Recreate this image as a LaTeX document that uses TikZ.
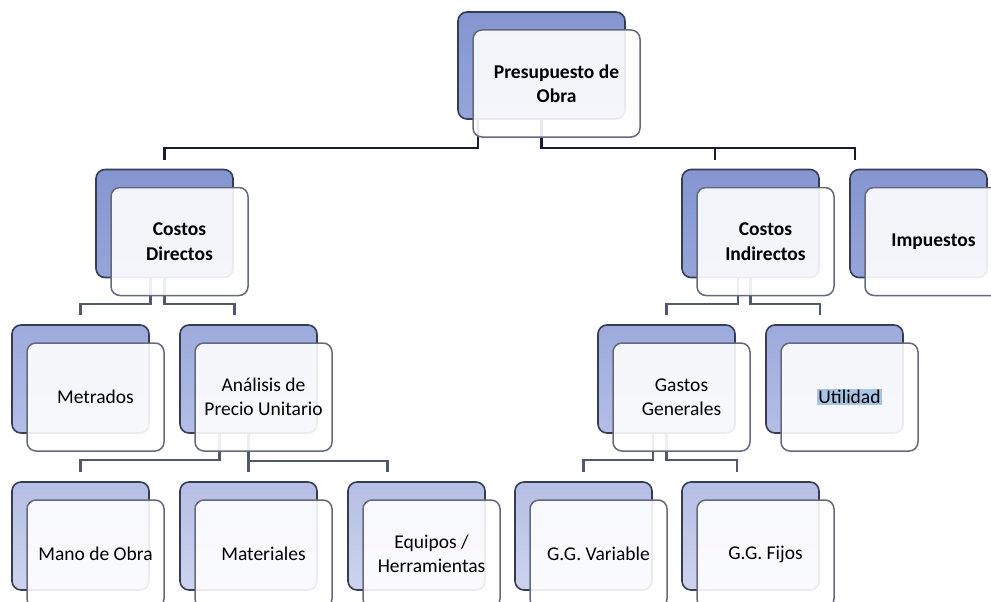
\documentclass[tikz,border=0pt]{standalone}
\usepackage{fontspec}
\setmainfont{Carlito}
\definecolor{backline}{RGB}{55,60,85}
\definecolor{frontline}{RGB}{100,105,125}
\definecolor{connA}{RGB}{24,28,54}
\definecolor{connB}{RGB}{80,88,110}
\definecolor{bA1}{RGB}{132,149,208}
\definecolor{bA2}{RGB}{150,166,218}
\definecolor{bB1}{RGB}{156,170,220}
\definecolor{bB2}{RGB}{180,190,230}
\definecolor{bC1}{RGB}{182,191,228}
\definecolor{bC2}{RGB}{205,211,237}
\definecolor{hl}{RGB}{166,196,228}
\tikzset{
  backbox/.style={draw=backline, line width=1.6pt, rounded corners=9pt,
    minimum width=137pt, minimum height=108pt, inner sep=0pt},
  lvA/.style={backbox, top color=bA1, bottom color=bA2},
  lvB/.style={backbox, top color=bB1, bottom color=bB2},
  lvC/.style={backbox, top color=bC1, bottom color=bC2},
  frontbox/.style={draw=frontline, line width=1.5pt, rounded corners=9pt,
    fill=white, fill opacity=0.9, text opacity=1, text=black,
    minimum width=137pt, minimum height=108pt, inner sep=0pt, align=center,
    font=\fontsize{19.5}{24.5}\selectfont},
  boldbox/.style={frontbox, font=\fontsize{19.5}{24.5}\selectfont\bfseries},
  conn/.style={draw=connB, line width=2.2pt},
  conntop/.style={draw=connA, line width=2.2pt},
}
\begin{document}
\begin{tikzpicture}[x=1pt,y=-1pt]
\useasboundingbox (0,0) rectangle (991,602);
\clip (0,0) rectangle (991,602);
\fill[white] (0,0) rectangle (991,602);
% back boxes
\node[lvA, minimum width=167pt, minimum height=107pt] (b-top) at (541.5,65.5) {};
\node[lvA] (b-cd)  at (164.5,223.5) {};
\node[lvA] (b-ci)  at (750.5,223.5) {};
\node[lvA] (b-imp) at (918.5,223.5) {};
\node[lvB] (b-met) at (80.5,379) {};
\node[lvB] (b-an)  at (248.5,379) {};
\node[lvB] (b-gg)  at (666.5,379) {};
\node[lvB] (b-ut)  at (834.5,379) {};
\node[lvC] (b-mo)  at (80.5,536) {};
\node[lvC] (b-mat) at (248.5,536) {};
\node[lvC] (b-eq)  at (416.5,536) {};
\node[lvC] (b-var) at (583.5,536) {};
\node[lvC] (b-fij) at (750.5,536) {};
% connectors
\draw[conntop] ([xshift=-63.5pt]b-top.south) -- ++(0,28) -| ([yshift=9pt]b-cd.north);
\draw[conntop] (b-top.south) -- ++(0,28) -| ([xshift=-63.5pt,yshift=9pt]b-imp.north);
\draw[conntop] (b-top.south) ++(0,28) -| ([xshift=-35.5pt,yshift=9pt]b-ci.north);
\draw[conn] ([xshift=-14pt]b-cd.south) -- ++(0,26) -| ([yshift=9pt]b-met.north);
\draw[conn] (b-cd.south) -- ++(0,26) -| ([xshift=-14pt,yshift=9pt]b-an.north);
\draw[conn] ([xshift=-29pt]b-an.south) -- ++(0,26) -| ([yshift=9pt]b-mo.north);
\draw[conn] (b-an.south) -- ++(0,27) -| ([xshift=-29pt,yshift=9pt]b-eq.north);
\draw[conn] (b-an.south) -- ([yshift=9pt]b-mat.north);
\draw[conn] ([xshift=-12.5pt]b-ci.south) -- ++(0,26) -| ([yshift=9pt]b-gg.north);
\draw[conn] (b-ci.south) -- ++(0,26) -| ([xshift=-14.5pt,yshift=9pt]b-ut.north);
\draw[conn] ([xshift=-13.5pt]b-gg.south) -- ++(0,26) -| ([yshift=9pt]b-var.north);
\draw[conn] (b-gg.south) -- ++(0,26) -| ([xshift=-13.5pt,yshift=9pt]b-fij.north);
% front boxes
\node[boldbox, minimum width=167pt, minimum height=107pt] (f-top) at (556.5,83.5) {Presupuesto de\\Obra};
\node[boldbox] (f-cd)  at (179.5,241.5) {Costos\\Directos};
\node[boldbox] (f-ci)  at (765.5,241.5) {Costos\\Indirectos};
\node[boldbox] (f-imp) at (933.5,241.5) {Impuestos};
\node[frontbox] (f-met) at (95.5,397) {Metrados};
\node[frontbox] (f-an)  at (263.5,397) {Análisis de\\Precio Unitario};
\node[frontbox] (f-gg)  at (681.5,397) {Gastos\\Generales};
\node[frontbox] (f-ut)  at (849.5,397) {\setlength{\fboxsep}{1pt}\colorbox{hl}{Utilidad}};
\node[frontbox] (f-mo)  at (95.5,554) {Mano de Obra};
\node[frontbox] (f-mat) at (263.5,554) {Materiales};
\node[frontbox] (f-eq)  at (431.5,554) {Equipos /\\Herramientas};
\node[frontbox] (f-var) at (598.5,554) {G.G. Variable};
\node[frontbox] (f-fij) at (765.5,554) {G.G. Fijos};
\end{tikzpicture}
\end{document}
